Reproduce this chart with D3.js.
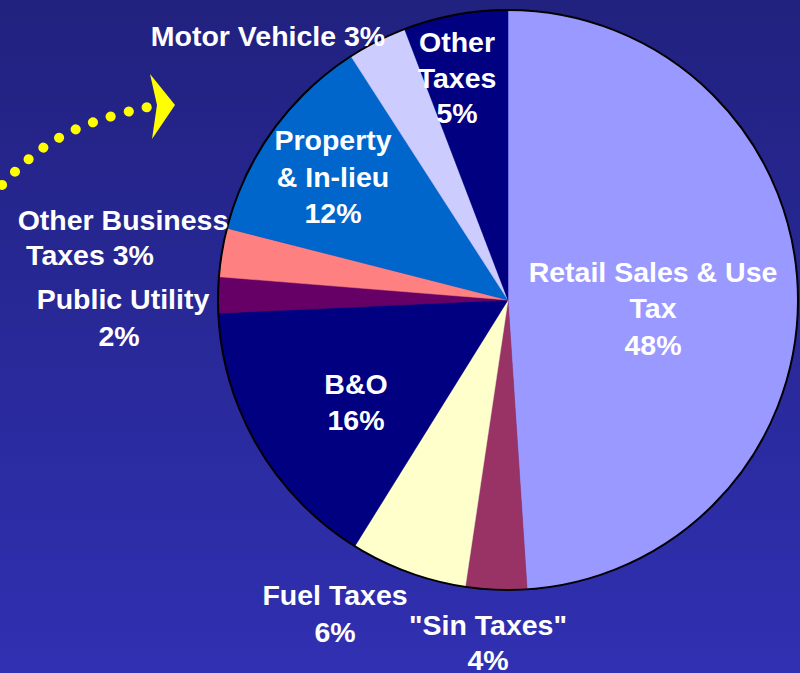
<!DOCTYPE html>
<html>
<head>
<meta charset="utf-8">
<script src="https://cdn.jsdelivr.net/npm/d3@7"></script>
<style>
  html, body { margin: 0; padding: 0; }
  svg { display: block; }
</style>
</head>
<body>
<svg id="chart" width="800" height="673"></svg>
<script>
// categories, clockwise from 12 o'clock
const categories = ["Retail Sales & Use Tax", "\"Sin Taxes\"", "Fuel Taxes", "B&O",
  "Public Utility", "Other Business Taxes", "Property & In-lieu", "Motor Vehicle", "Other Taxes"];
// slice shares (percent)
const shares = [48.9, 3.4, 6.5, 15.4, 2.0, 2.7, 11.9, 3.3, 5.8];
// percent labels as printed
const pctLabels = ["48%", "4%", "6%", "16%", "2%", "3%", "12%", "3%", "5%"];
const sliceColors = ["#9999FF", "#993366", "#FFFFCC", "#000080", "#660066",
  "#FF8080", "#0066CC", "#CCCCFF", "#000080"];

const data = categories.map((c, i) => ({ name: c, share: shares[i], pct: pctLabels[i], color: sliceColors[i] }));

const svg = d3.select("#chart"),
      W = +svg.attr("width"),
      H = +svg.attr("height");

// background gradient
const defs = svg.append("defs");
const grad = defs.append("linearGradient").attr("id", "bg")
  .attr("x1", 0).attr("y1", 0).attr("x2", 0).attr("y2", 1);
grad.append("stop").attr("offset", "0%").attr("stop-color", "#21217f");
grad.append("stop").attr("offset", "100%").attr("stop-color", "#3030b2");
svg.append("rect").attr("width", W).attr("height", H).attr("fill", "url(#bg)");

// pie
const cx = 508, cy = 300, r = 290;
const pie = d3.pie().value(d => d.share).sort(null);
const arc = d3.arc().innerRadius(0).outerRadius(r);

const g = svg.append("g").attr("transform", `translate(${cx},${cy})`);
g.selectAll("path.slice")
  .data(pie(data))
  .enter().append("path")
    .attr("class", "slice")
    .attr("d", arc)
    .attr("fill", d => d.data.color)
    .attr("stroke", d => d.data.color)
    .attr("stroke-width", 0.5);

g.append("circle").attr("r", r).attr("fill", "none").attr("stroke", "#000").attr("stroke-width", 2);

// label layout: each line [text, x, y(center)] -- placement only
const labelLines = {
  "Retail Sales & Use Tax": [["Retail Sales & Use", 653, 272], ["Tax", 653, 308], ["{p}", 653, 345]],
  "\"Sin Taxes\"": [["\"Sin Taxes\"", 488, 625], ["{p}", 488, 660]],
  "Fuel Taxes": [["Fuel Taxes", 335, 595], ["{p}", 335, 632]],
  "B&O": [["B&O", 356, 384], ["{p}", 356, 420]],
  "Public Utility": [["Public Utility", 123, 299], ["{p}", 119, 336]],
  "Other Business Taxes": [["Other Business", 123, 220], ["Taxes {p}", 90, 255]],
  "Property & In-lieu": [["Property", 333, 140], ["& In-lieu", 333, 177], ["{p}", 333, 213]],
  "Motor Vehicle": [["Motor Vehicle {p}", 268, 36]],
  "Other Taxes": [["Other", 457, 42], ["Taxes", 457, 78], ["{p}", 457, 113]]
};

const lines = [];
data.forEach(d => {
  labelLines[d.name].forEach(l => lines.push({ text: l[0].replace("{p}", d.pct), x: l[1], y: l[2] }));
});

svg.selectAll("text.lbl")
  .data(lines)
  .enter().append("text")
    .attr("class", "lbl")
    .attr("x", d => d.x)
    .attr("y", d => d.y + 10)
    .attr("text-anchor", "middle")
    .style("font-family", "'Liberation Sans', Arial, sans-serif")
    .style("font-size", "28.5px")
    .style("font-weight", "bold")
    .style("fill", "#ffffff")
    .text(d => d.text);

// dotted yellow arrow
const arrowPath = d3.line().curve(d3.curveBasis)([[2, 185], [40, 146], [95, 119], [157, 105]]);
svg.append("path")
  .attr("d", arrowPath)
  .attr("fill", "none")
  .attr("stroke", "#ffff00")
  .attr("stroke-width", 10)
  .attr("stroke-linecap", "round")
  .attr("stroke-dasharray", "0.1 18.5");
svg.append("polygon")
  .attr("points", "150,74 175,105 152,139 157,105")
  .attr("fill", "#ffff00");
</script>
</body>
</html>
